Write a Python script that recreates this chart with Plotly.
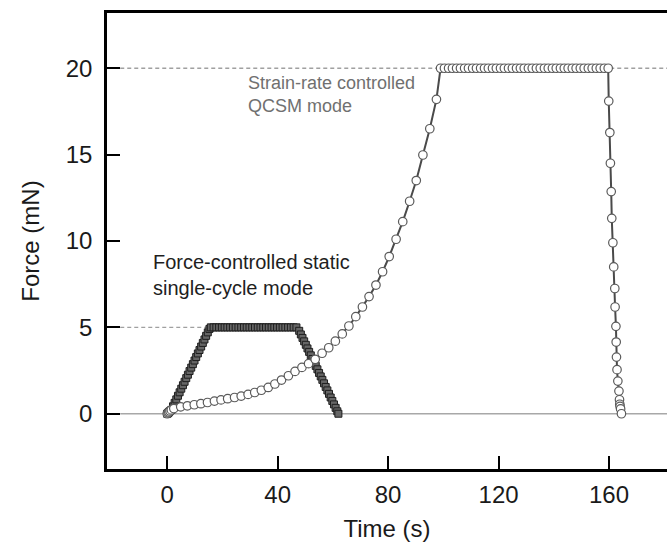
import plotly.graph_objects as go

# ---- Force-controlled static single-cycle mode (squares) ----
sq_time = [0, 0.2, 0.4, 0.6, 0.9, 1.5, 2.1, 2.7, 3.3, 3.9, 4.5, 5.1, 5.7, 6.3, 6.9, 7.5, 8.1, 8.7,
           9.3, 9.9, 10.5, 11.1, 11.7, 12.3, 12.9, 13.5, 14.1, 14.7, 15.3, 15.8,
           16.8, 17.8, 18.8, 19.8, 20.8, 21.8, 22.8, 23.8, 24.8, 25.8, 26.8, 27.8, 28.8, 29.8,
           30.8, 31.8, 32.8, 33.8, 34.8, 35.8, 36.8, 37.8, 38.8, 39.8, 40.8, 41.8, 42.8, 43.8,
           44.8, 45.8, 46.8,
           47.8, 48.4, 49.0, 49.6, 50.2, 50.8, 51.4, 52.0, 52.6, 53.2, 53.8, 54.4, 55.0, 55.6,
           56.2, 56.8, 57.4, 58.0, 58.6, 59.2, 59.8, 60.4, 61.0, 61.6, 62.0]
sq_force = [0, 0.02, 0.05, 0.09, 0.14, 0.22, 0.43, 0.63, 0.83, 1.04, 1.24, 1.45, 1.65, 1.85, 2.06,
            2.26, 2.47, 2.67, 2.87, 3.08, 3.28, 3.49, 3.69, 3.89, 4.10, 4.30, 4.51, 4.71, 4.91, 5.0,
            5.0, 5.0, 5.0, 5.0, 5.0, 5.0, 5.0, 5.0, 5.0, 5.0, 5.0, 5.0, 5.0, 5.0,
            5.0, 5.0, 5.0, 5.0, 5.0, 5.0, 5.0, 5.0, 5.0, 5.0, 5.0, 5.0, 5.0, 5.0,
            5.0, 5.0, 5.0,
            4.80, 4.59, 4.39, 4.19, 3.99, 3.78, 3.58, 3.38, 3.17, 2.97, 2.77, 2.57, 2.36, 2.16,
            1.96, 1.76, 1.55, 1.35, 1.15, 0.94, 0.74, 0.54, 0.34, 0.14, 0.0]

# ---- Strain-rate controlled QCSM mode (circles) ----
qc_time = [0, 0.3, 0.6, 1.0, 1.5, 2.4, 4.9, 7.3, 9.8, 12.2, 14.6, 17.1, 19.5, 21.9, 24.4, 26.8,
           29.3, 31.7, 34.1, 36.6, 39.0, 41.4, 43.9, 46.3, 48.8, 51.2, 53.6, 56.1, 58.5, 60.9,
           63.4, 65.8, 68.3, 70.7, 73.1, 75.6, 78.0, 80.4, 82.9, 85.3, 87.8, 90.2, 92.6, 95.1, 97.5,
           99.0, 100.4, 101.9, 103.3, 104.8, 106.2, 107.7, 109.1, 110.6, 112.0, 113.5, 114.9,
           116.3, 117.8, 119.2, 120.7, 122.1, 123.6, 125.0, 126.5, 127.9, 129.3, 130.8, 132.2,
           133.7, 135.1, 136.6, 138.0, 139.5, 140.9, 142.4, 143.8, 145.2, 146.7, 148.1, 149.6,
           151.0, 152.5, 153.9, 155.4, 156.8, 158.3, 159.7,
           159.9, 160.3, 160.5, 160.8, 161.0, 161.4, 161.7, 162.1, 162.2, 162.5, 162.6, 162.7,
           162.9, 163.2, 163.6, 163.8, 163.9, 164.0, 164.2, 164.5]
qc_force = [0, 0.05, 0.10, 0.16, 0.22, 0.30, 0.40, 0.46, 0.52, 0.58, 0.65, 0.73, 0.80, 0.87, 0.94,
            1.02, 1.12, 1.23, 1.36, 1.52, 1.72, 1.95, 2.20, 2.45, 2.68, 2.90, 3.15, 3.50, 3.82,
            4.20, 4.62, 5.08, 5.62, 6.18, 6.78, 7.45, 8.22, 9.10, 10.10, 11.12, 12.30, 13.50,
            14.98, 16.50, 18.20,
            20, 20, 20, 20, 20, 20, 20, 20, 20, 20, 20, 20, 20, 20, 20, 20, 20, 20, 20, 20, 20,
            20, 20, 20, 20, 20, 20, 20, 20, 20, 20, 20, 20, 20, 20, 20, 20, 20, 20, 20, 20, 20, 20,
            18.10, 16.28, 14.50, 12.86, 11.31, 9.90, 8.50, 7.25, 6.18, 5.06, 4.15, 3.28,
            2.55, 1.89, 1.31, 0.81, 0.55, 0.42, 0.28, 0.0]

x_ticks = [0, 40, 80, 120, 160]
y_ticks = [0, 5, 10, 15, 20]
x_range = [-21.8, 181]
y_range = [-3.2, 23.2]

FONT = "Liberation Sans, Arial, sans-serif"

fig = go.Figure()

# reference lines
fig.add_shape(type="line", x0=-17, x1=x_range[1], y0=0, y1=0, xref="x", yref="y",
              line=dict(color="#a8a8a8", width=1.6), layer="below")
fig.add_shape(type="line", x0=-17, x1=x_range[1], y0=20, y1=20, xref="x", yref="y",
              line=dict(color="#a0a0a0", width=1.3, dash="4px,3px"), layer="below")
fig.add_shape(type="line", x0=-17, x1=16, y0=5, y1=5, xref="x", yref="y",
              line=dict(color="#a0a0a0", width=1.3, dash="4px,3px"), layer="below")

fig.add_trace(go.Scatter(
    x=sq_time, y=sq_force, mode="lines+markers",
    line=dict(color="#333333", width=1.2),
    marker=dict(symbol="square", size=7, color="#666666", line=dict(color="#1e1e1e", width=1)),
    showlegend=False))

fig.add_trace(go.Scatter(
    x=qc_time, y=qc_force, mode="lines+markers",
    line=dict(color="#4a4a4a", width=2),
    marker=dict(symbol="circle", size=8.5, color="white", line=dict(color="#5a5a5a", width=1.2)),
    showlegend=False))

fig.add_annotation(x=-5.9, y=8.05, xref="x", yref="y", xanchor="left", yanchor="middle",
                   text="Force-controlled static<br>single-cycle mode", showarrow=False, align="left",
                   font=dict(family=FONT, size=20, color="#1e1e1e"))
fig.add_annotation(x=28.5, y=18.5, xref="x", yref="y", xanchor="left", yanchor="middle",
                   text="Strain-rate controlled<br>QCSM mode", showarrow=False, align="left",
                   font=dict(family=FONT, size=18, color="#707070"))

fig.update_layout(
    width=667, height=543,
    margin=dict(l=107, r=0, t=13, b=74),
    paper_bgcolor="white", plot_bgcolor="white",
    font=dict(family=FONT, size=24, color="#1a1a1a"),
)
fig.update_xaxes(
    range=x_range, tickvals=x_ticks, ticks="inside", ticklen=13, tickwidth=2, tickcolor="black",
    showline=True, linecolor="black", linewidth=2.5, mirror=True, showgrid=False, zeroline=False,
    ticklabelstandoff=2,
    title=dict(text="Time (s)", standoff=14, font=dict(size=24)),
)
fig.update_yaxes(
    range=y_range, tickvals=y_ticks, ticks="inside", ticklen=13, tickwidth=2, tickcolor="black",
    showline=True, linecolor="black", linewidth=2.5, mirror=False, showgrid=False, zeroline=False,
    ticklabelstandoff=7,
    title=dict(text="Force (mN)", standoff=20, font=dict(size=24)),
)

fig.write_html("out.html")
